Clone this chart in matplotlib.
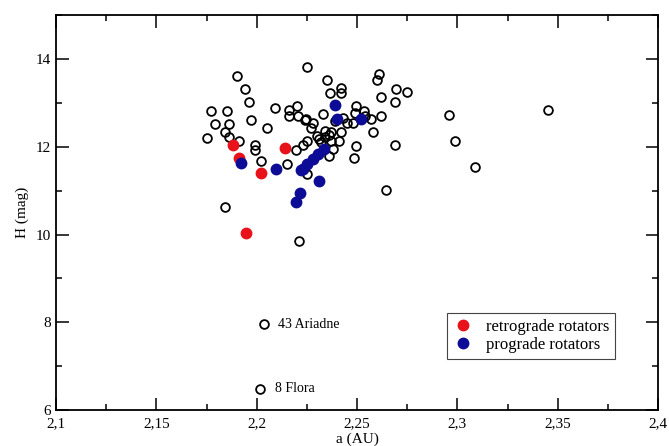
import matplotlib.pyplot as plt
from matplotlib.ticker import MultipleLocator, FuncFormatter

# open circles: all asteroids in the sample (a in AU, H in mag)
a_all = [2.225, 2.190, 2.194, 2.196, 2.177, 2.185, 2.209, 2.216, 2.220, 2.216,
         2.2205, 2.224, 2.179, 2.186, 2.197, 2.205, 2.184, 2.186, 2.175, 2.191,
         2.199, 2.199, 2.202, 2.215, 2.2195, 2.223, 2.225, 2.225, 2.184, 2.221,
         2.235, 2.242, 2.242, 2.2365, 2.261, 2.260, 2.2695, 2.2747, 2.262, 2.269,
         2.2245, 2.228, 2.227, 2.233, 2.234, 2.239, 2.243, 2.245, 2.2495, 2.249,
         2.2537, 2.257, 2.248, 2.258, 2.242, 2.237, 2.230, 2.232, 2.237, 2.241,
         2.238, 2.2495, 2.2487, 2.269, 2.236, 2.2645, 2.296, 2.345, 2.2987, 2.309,
         2.234, 2.236, 2.231, 2.254, 2.262, 2.2035, 2.2017]
H_all = [13.82, 13.62, 13.31, 13.02, 12.81, 12.81, 12.89, 12.83, 12.92, 12.70,
         12.70, 12.61, 12.52, 12.52, 12.61, 12.42, 12.33, 12.23, 12.21, 12.14,
         12.03, 11.92, 11.67, 11.60, 11.92, 12.03, 12.14, 11.38, 10.62, 9.86,
         13.52, 13.35, 13.22, 13.22, 13.65, 13.52, 13.31, 13.24, 13.14, 13.03,
         12.63, 12.54, 12.42, 12.74, 12.36, 12.58, 12.65, 12.55, 12.93, 12.78,
         12.82, 12.63, 12.55, 12.33, 12.33, 12.33, 12.25, 12.10, 12.14, 12.14,
         11.95, 12.02, 11.74, 12.04, 11.80, 11.02, 12.72, 12.84, 12.14, 11.53,
         12.22, 12.26, 12.18, 12.70, 12.70, 7.95, 6.48]

a_retro = [2.188, 2.214, 2.191, 2.202, 2.1945]
H_retro = [12.04, 11.97, 11.74, 11.40, 10.03]

a_pro = [2.192, 2.2097, 2.222, 2.2217, 2.2195, 2.239, 2.240, 2.252, 2.2337,
         2.2303, 2.228, 2.225, 2.223, 2.231]
H_pro = [11.63, 11.49, 11.47, 10.95, 10.73, 12.95, 12.63, 12.63, 11.95,
         11.83, 11.72, 11.60, 11.49, 11.23]

names = ['43 Ariadne', '8 Flora']
name_a = [2.2035, 2.2017]
name_H = [7.95, 6.48]

plt.rcParams['font.family'] = ['Liberation Serif', 'DejaVu Serif']

fig = plt.figure(figsize=(6.69, 4.46), dpi=100)
ax = fig.add_axes([0.0837, 0.0807, 0.90, 0.8853])

ax.plot(a_all, H_all, 'o', mfc='none', mec='black', mew=1.3, ms=6.3, ls='none')
ax.plot(a_retro, H_retro, 'o', color='#e8121a', ms=7.5, ls='none',
        label='retrograde rotators')
ax.plot(a_pro, H_pro, 'o', color='#0c0c96', ms=7.5, ls='none',
        label='prograde rotators')

for n, x, y in zip(names, name_a, name_H):
    ax.text(x + 0.0072, y, n, fontsize=10, va='center', ha='left')

ax.set_xlim(2.1, 2.4)
ax.set_ylim(6, 15)
ax.xaxis.set_major_locator(MultipleLocator(0.05))
ax.xaxis.set_minor_locator(MultipleLocator(0.025))
ax.yaxis.set_major_locator(MultipleLocator(2))
ax.yaxis.set_minor_locator(MultipleLocator(1))
ax.xaxis.set_major_formatter(FuncFormatter(lambda v, p: ('%g' % round(v, 3)).replace('.', ',')))
ax.tick_params(which='both', direction='in', top=True, right=True, width=1.1,
               labelsize=11)
ax.tick_params(which='major', length=9)
ax.tick_params(axis='x', which='major', pad=5)
ax.tick_params(which='minor', length=4.5)
for s in ax.spines.values():
    s.set_linewidth(1.3)

ax.set_xlabel('a (AU)', fontsize=11, labelpad=2)
ax.set_ylabel('H (mag)', fontsize=11)
ax.yaxis.set_label_coords(-0.045, 0.5)

leg = ax.legend(loc='upper left', bbox_to_anchor=(0.649, 0.246), borderaxespad=0,
                fontsize=12, fancybox=False, edgecolor='#444444', framealpha=1,
                handletextpad=0.8, borderpad=0.35, labelspacing=0.15,
                handlelength=1.2)
leg.get_frame().set_linewidth(0.8)

fig.savefig('out.png', dpi=100)
